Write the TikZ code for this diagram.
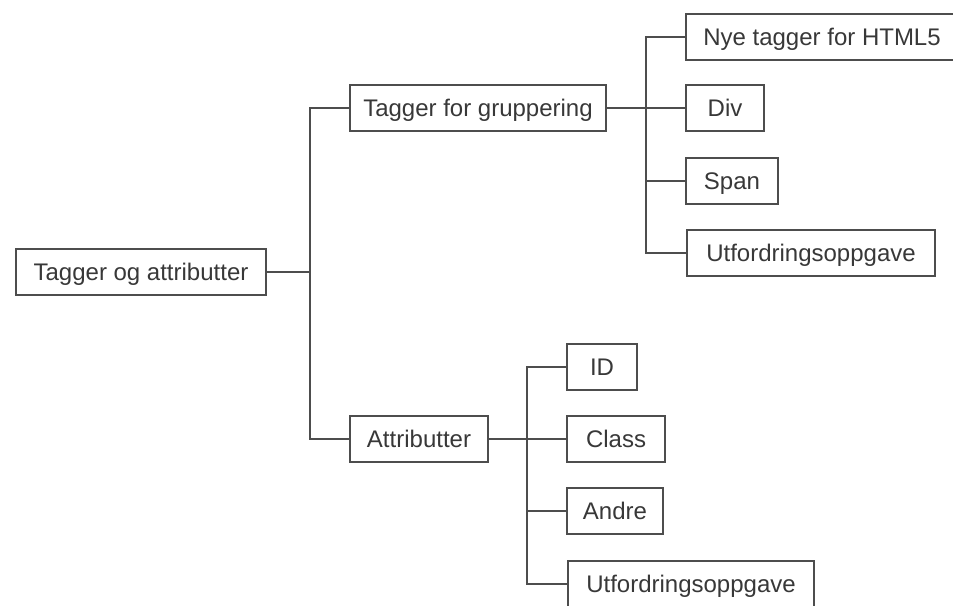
\documentclass[tikz,border=0pt]{standalone}
\usepackage{fontspec}
\setmainfont{Liberation Sans}
\definecolor{linegray}{HTML}{4D4D4D}
\definecolor{textgray}{HTML}{383838}
\tikzset{
  box/.style={draw=linegray, line width=2pt, fill=white, minimum height=46pt,
    inner sep=0pt, text=textgray, font=\fontsize{24}{28}\selectfont,
    text height=17pt, text depth=0pt},
  conn/.style={draw=linegray, line width=2pt}
}
\begin{document}
\begin{tikzpicture}[x=1pt,y=-1pt]
\clip (0,0) rectangle (953,605);
\fill[white] (0,0) rectangle (953,605);
% nodes
\node[box, minimum width=250pt] (root)  at (141,272) {Tagger og attributter};
\node[box, minimum width=256pt] (grp)   at (478,108) {Tagger for gruppering};
\node[box, minimum width=272pt] (html5) at (822,37)  {Nye tagger for HTML5};
\node[box, minimum width=78pt]  (div)   at (725,108) {Div};
\node[box, minimum width=92pt]  (span)  at (732,181) {Span};
\node[box, minimum width=248pt] (utf1)  at (811,253) {Utfordringsoppgave};
\node[box, minimum width=138pt] (attr)  at (419,439) {Attributter};
\node[box, minimum width=70pt]  (id)    at (602,367) {ID};
\node[box, minimum width=98pt]  (class) at (616,439) {Class};
\node[box, minimum width=96pt]  (andre) at (615,511) {Andre};
\node[box, minimum width=246pt] (utf2)  at (691,584) {Utfordringsoppgave};
% junction coordinates
\coordinate (j1) at (310,272);
\coordinate (j2) at (646,108);
\coordinate (j3) at (527,439);
% connectors
\draw[conn] (root.east) -- (j1);
\draw[conn] (grp.west) -| (j1) |- (attr.west);
\draw[conn] (html5.west) -| (j2) |- (utf1.west);
\draw[conn] (grp.east) -- (div.west);
\draw[conn] (span.west) -- (span.west -| j2);
\draw[conn] (id.west) -| (j3) |- (utf2.west);
\draw[conn] (attr.east) -- (class.west);
\draw[conn] (andre.west) -- (andre.west -| j3);
\end{tikzpicture}
\end{document}
